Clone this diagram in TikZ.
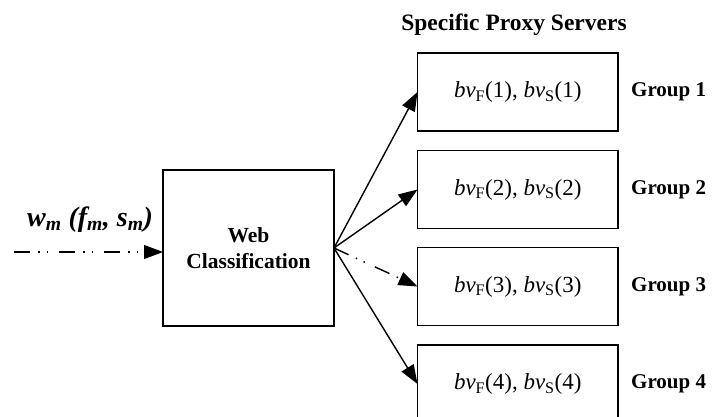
\documentclass[tikz,border=0pt]{standalone}
\usepackage{fontspec}
\setmainfont{Liberation Serif}
\usetikzlibrary{arrows.meta}
\tikzset{
  box/.style={draw, line width=1.2pt, inner sep=0pt, outer sep=0pt},
  proxybox/.style={box, minimum width=200.5pt, minimum height=78pt, font=\fontsize{23}{27}\selectfont},
  conn/.style={line width=1.4pt, -{Triangle[length=19pt,width=14pt]}},
  dashdotdot/.style={dash pattern=on 16pt off 8pt on 1.5pt off 7pt on 1.5pt off 11pt},
  grouplbl/.style={anchor=west, inner sep=0pt, font=\bfseries\fontsize{21}{25}\selectfont},
}
\newcommand{\bvpair}[1]{\textit{bv}\textsubscript{F}(#1), \textit{bv}\textsubscript{S}(#1)}
\begin{document}
\begin{tikzpicture}[x=1pt, y=-1pt]
\useasboundingbox (0,0) rectangle (712,417);
\clip (0,0) rectangle (712,417);
\node[box, minimum width=171pt, minimum height=156pt, align=center,
      font=\bfseries\fontsize{21.5}{25.5}\selectfont] (web) at (248.5,248) {Web\\Classification};
\node[proxybox] (p1) at (517.75,92) {\bvpair{1}};
\node[proxybox] (p2) at (517.75,189.5) {\bvpair{2}};
\node[proxybox] (p3) at (517.75,286.5) {\bvpair{3}};
\node[proxybox] (p4) at (517.75,384) {\bvpair{4}};
\node[grouplbl] (g1) at (631,92) {Group 1};
\node[grouplbl] (g2) at (631,189.5) {Group 2};
\node[grouplbl] (g3) at (631,286.5) {Group 3};
\node[grouplbl] (g4) at (631,384) {Group 4};
\node[inner sep=0pt, font=\bfseries\fontsize{23.5}{27}\selectfont] (head) at (514,25) {Specific Proxy Servers};
\node[inner sep=0pt, font=\bfseries\itshape\fontsize{28}{32}\selectfont] (wlabel) at (90,220)
  {w\textsubscript{m} (f\textsubscript{m}, s\textsubscript{m})};
\coordinate (start) at (14,252);
\draw[conn, dashdotdot] (start) -- (start -| web.west);
\draw[conn] (web.east) -- (p1.west);
\draw[conn] (web.east) -- (p2.west);
\draw[conn, dashdotdot] (web.east) -- (p3.west);
\draw[conn] (web.east) -- (p4.west);
\end{tikzpicture}
\end{document}
